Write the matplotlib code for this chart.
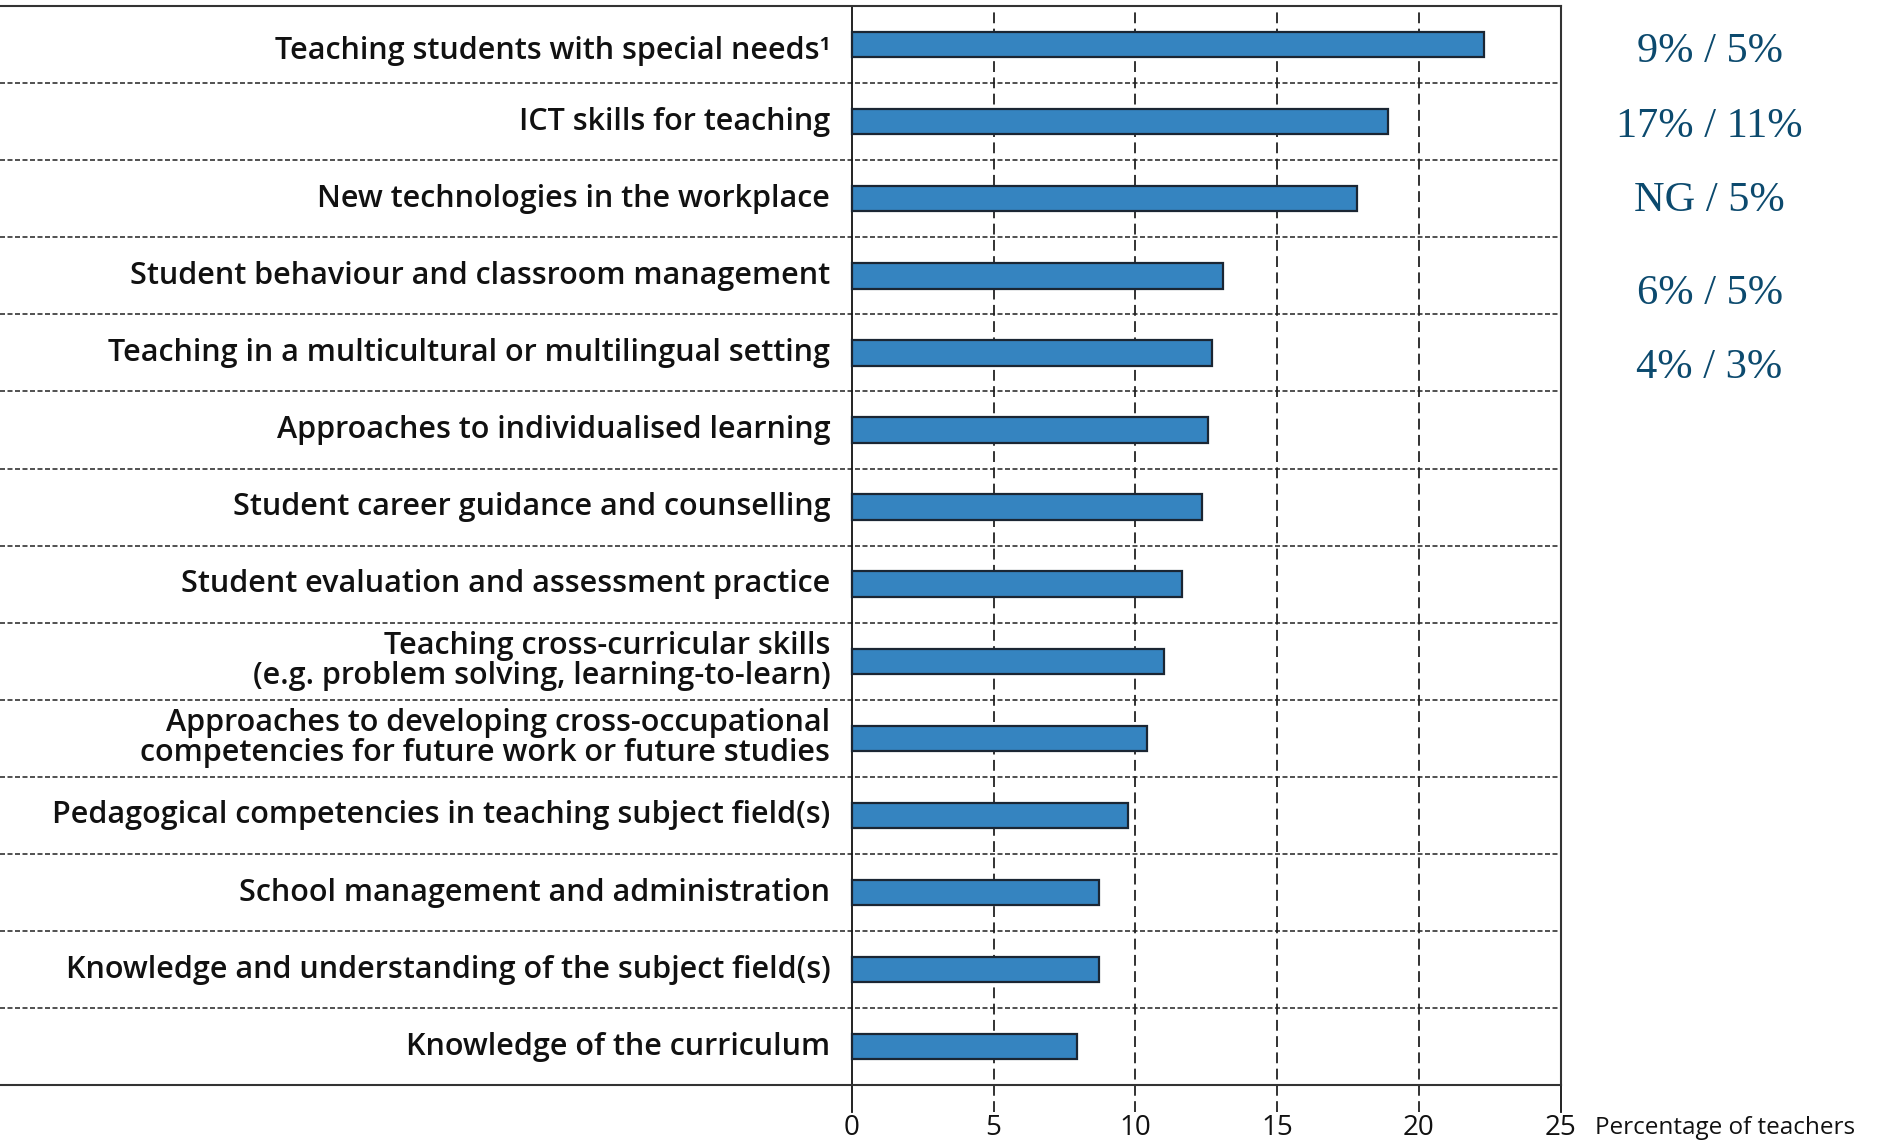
import matplotlib
matplotlib.use("Agg")
import matplotlib.pyplot as plt
import matplotlib.transforms as mtransforms

categories = [
    "Teaching students with special needs\u00b9",
    "ICT skills for teaching",
    "New technologies in the workplace",
    "Student behaviour and classroom management",
    "Teaching in a multicultural or multilingual setting",
    "Approaches to individualised learning",
    "Student career guidance and counselling",
    "Student evaluation and assessment practice",
    "Teaching cross-curricular skills\n(e.g. problem solving, learning-to-learn)",
    "Approaches to developing cross-occupational\ncompetencies for future work or future studies",
    "Pedagogical competencies in teaching subject field(s)",
    "School management and administration",
    "Knowledge and understanding of the subject field(s)",
    "Knowledge of the curriculum",
]
values = [22.3, 18.9, 17.8, 13.1, 12.7, 12.55, 12.35, 11.65, 11.0, 10.4, 9.75, 8.7, 8.7, 7.95]
side_notes = ["9% / 5%", "17% / 11%", "NG / 5%", "6% / 5%", "4% / 3%"]
side_rows = [0.09, 1.06, 2.03, 3.23, 4.19]
xticks = [0, 5, 10, 15, 20, 25]
xlabel = "Percentage of teachers"

W, H = 1884, 1143
fig = plt.figure(figsize=(W / 100, H / 100), dpi=100)
ax = fig.add_axes([0.0, 0.0505, 0.8284, 0.9442])
renderer = fig.canvas.get_renderer()

xmin = -709 / 23.6
ax.set_xlim(xmin, 25)
n = len(categories)
ax.set_ylim(n - 0.5, -0.5)

ypos = list(range(n))
ax.barh(ypos, values, height=0.33, color="#3584c0", edgecolor="#1b2633", linewidth=1.6, zorder=3)

for i in range(n - 1):
    ax.axhline(i + 0.5, color="#333333", linestyle=(0, (3, 1.5)), linewidth=1.2, zorder=2)

tick_family = ["Open Sans", "DejaVu Sans"]
trans = mtransforms.blended_transform_factory(ax.transData, ax.transAxes)
for t in xticks:
    if t in (0, 25):
        ls = "-"
        col = "#111111"
    else:
        ls = (0, (6, 3))
        col = "#222222"
    ax.plot([t, t], [-0.025, 1.0], transform=trans, color=col, linestyle=ls,
            linewidth=1.3, clip_on=False, zorder=2)
    ax.text(t, -0.04, str(t), transform=trans, ha="center", va="center",
            fontsize=20, family=tick_family, color="#111111")
ax.text(26.2, -0.04, xlabel, transform=trans, ha="left", va="center",
        fontsize=17.5, family=tick_family, color="#111111")

ax.spines["left"].set_visible(False)
for s in ["top", "right", "bottom"]:
    ax.spines[s].set_color("#333333")
    ax.spines[s].set_linewidth(1.5)
ax.set_xticks([])
ax.set_yticks([])

lab_family = ["Open Sans", "DejaVu Sans"]
probe = fig.text(0, 0, categories[10], fontsize=18, family=lab_family, fontweight="semibold")
wpx = probe.get_window_extent(renderer).width
probe.remove()
lab_size = 18 * 780 / wpx

for i, lab in enumerate(categories):
    ax.text(-0.76, i + (0.08 if i == 0 else 0.0), lab, ha="right", va="center", fontsize=lab_size,
            family=lab_family, fontweight="semibold", color="#111111",
            linespacing=1.0, zorder=4)

for txt, r in zip(side_notes, side_rows):
    ax.text(30.25, r, txt, ha="center", va="center", fontsize=30.5,
            family=["Liberation Serif", "DejaVu Serif"], color="#0c4a6e", clip_on=False)

fig.savefig("out.png", dpi=100)
